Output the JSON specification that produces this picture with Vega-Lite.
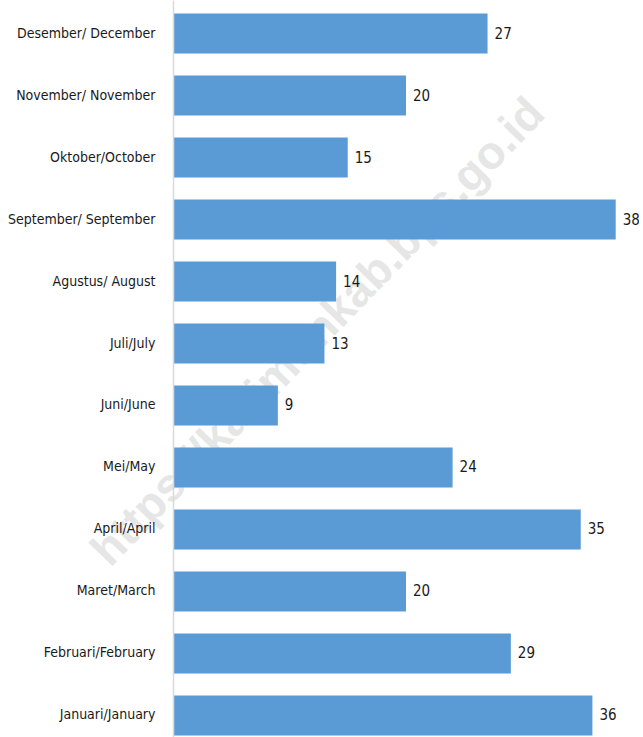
{
  "$schema": "https://vega.github.io/schema/vega-lite/v6.json",
  "autosize": {"type": "none"},
  "padding": {"left": 173, "top": 0, "right": 0, "bottom": 0},
  "width": 466,
  "height": 749,
  "background": "white",
  "config": {"view": {"stroke": null}},
  "data": {"values": [
      {"month": "Desember/ December", "value": 27, "wm": ""},
      {"month": "November/ November", "value": 20, "wm": ""},
      {"month": "Oktober/October", "value": 15, "wm": ""},
      {"month": "September/ September", "value": 38, "wm": ""},
      {"month": "Agustus/ August", "value": 14, "wm": ""},
      {"month": "Juli/July", "value": 13, "wm": "https://karimunkab.bps.go.id"},
      {"month": "Juni/June", "value": 9, "wm": ""},
      {"month": "Mei/May", "value": 24, "wm": ""},
      {"month": "April/April", "value": 35, "wm": ""},
      {"month": "Maret/March", "value": 20, "wm": ""},
      {"month": "Februari/February", "value": 29, "wm": ""},
      {"month": "Januari/January", "value": 36, "wm": ""}
  ]},
  "encoding": {
    "y": {
      "field": "month", "type": "nominal",
      "sort": ["Desember/ December", "November/ November", "Oktober/October", "September/ September", "Agustus/ August", "Juli/July", "Juni/June", "Mei/May", "April/April", "Maret/March", "Februari/February", "Januari/January"],
      "scale": {"paddingInner": 0.355, "paddingOuter": 0.218},
      "axis": {"title": null, "ticks": false, "zindex": 1, "domainColor": "#d9d9d9", "domainWidth": 1.5, "labelFont": "'DejaVu Sans Condensed', 'Liberation Sans Narrow', 'Open Sans', sans-serif", "labelFontSize": 14, "labelColor": "#1a1a1a", "labelPadding": 18, "labelLimit": 200}
    },
    "x": {"field": "value", "type": "quantitative", "scale": {"domain": [0, 40]}, "axis": null}
  },
  "layer": [
    {
      "transform": [{"filter": "datum.wm != ''"}],
      "mark": {"type": "text", "angle": 314, "font": "'Liberation Sans', sans-serif", "fontWeight": "bold", "fontSize": 46, "color": "#e6e6e6", "align": "center", "baseline": "middle", "dy": -12, "dx": 4},
      "encoding": {
        "text": {"field": "wm"}
      }
    },
    {
      "mark": {"type": "bar", "color": "#5B9BD5"}
    },
    {
      "mark": {"type": "text", "align": "left", "baseline": "middle", "dx": 7, "font": "'DejaVu Sans Condensed', 'Liberation Sans Narrow', 'Open Sans', sans-serif", "fontSize": 15, "color": "#1a1a1a"},
      "encoding": {
        "text": {"field": "value"}
      }
    }
  ]
}
